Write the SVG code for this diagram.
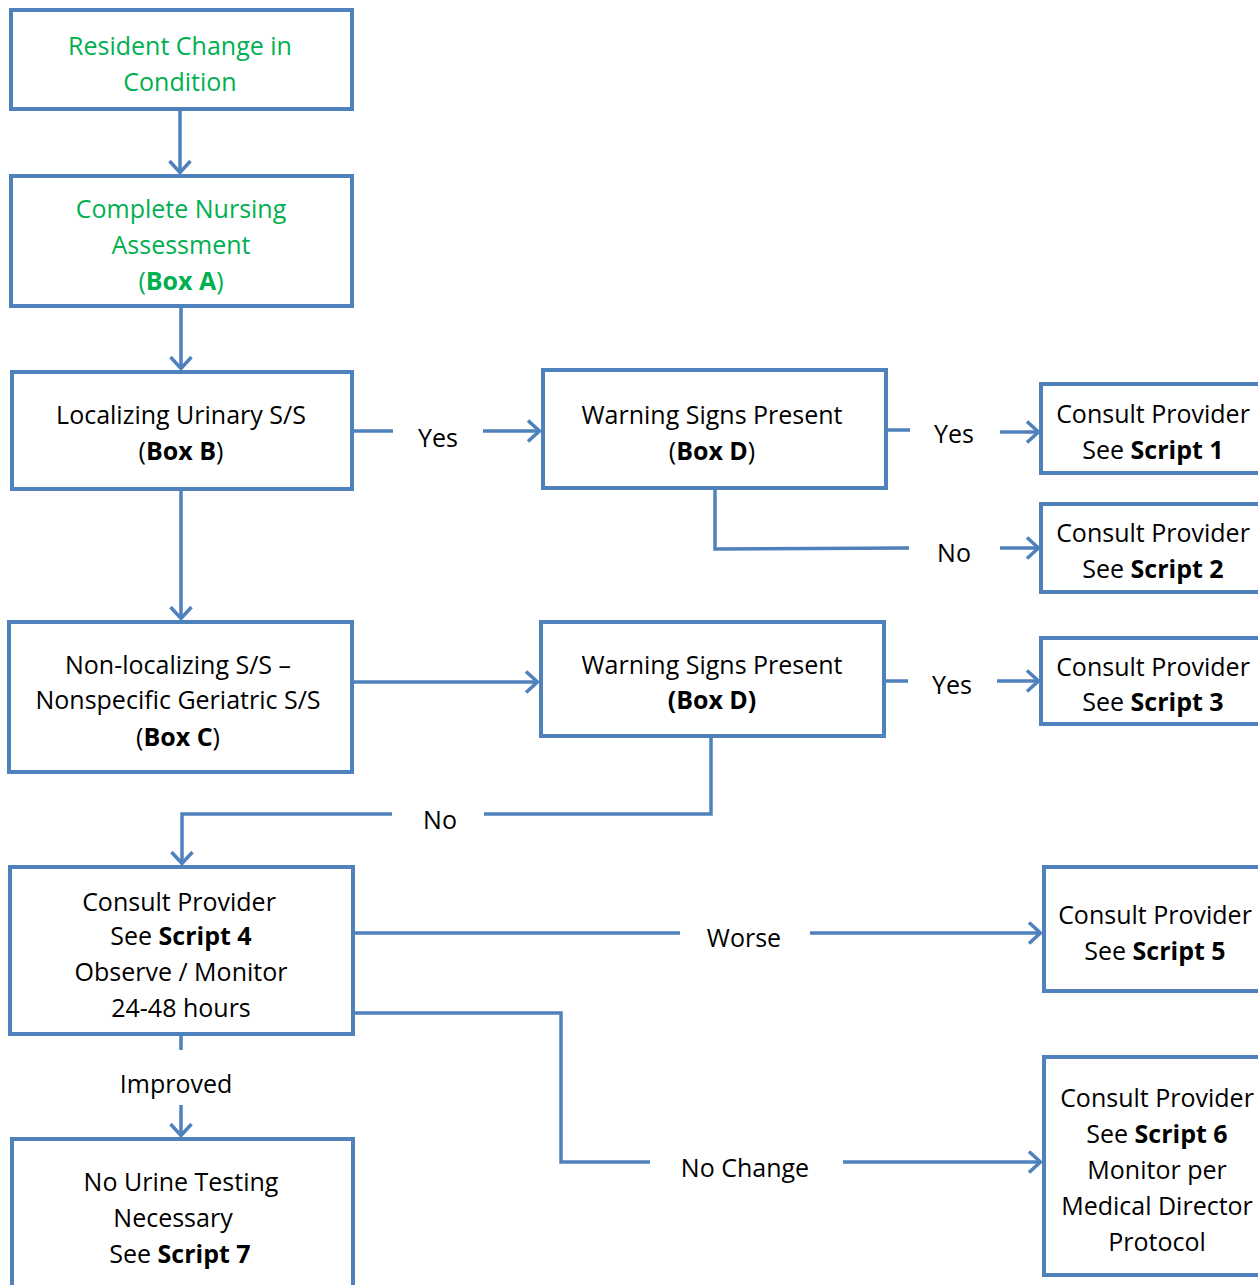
<svg xmlns="http://www.w3.org/2000/svg" width="1258" height="1285" viewBox="0 0 1258 1285">
<style>
.box{fill:#fff;stroke:#4F81BD;stroke-width:4}
.ln{fill:none;stroke:#4F81BD;stroke-width:3.5}
text{font-family:"Open Sans","Noto Sans","DejaVu Sans",sans-serif;font-size:25px;fill:#000;text-anchor:middle}
.g{fill:#00B050}
.b{font-weight:bold}
</style>
<defs>
<marker id="ah" viewBox="0 0 14 24" refX="13" refY="12" markerWidth="14" markerHeight="24" markerUnits="userSpaceOnUse" orient="auto">
<path d="M1,1.5 L12.5,12 L1,22.5" fill="none" stroke="#4F81BD" stroke-width="3.5"/>
</marker>
</defs>
<g id="connectors">
<path class="ln" d="M180,110 V173" marker-end="url(#ah)"/>
<path class="ln" d="M181,307 V369" marker-end="url(#ah)"/>
<path class="ln" d="M181,490 V619" marker-end="url(#ah)"/>
<path class="ln" d="M353,431 H393"/>
<path class="ln" d="M483,431 H540" marker-end="url(#ah)"/>
<path class="ln" d="M886,430 H910"/>
<path class="ln" d="M1000,432 H1039" marker-end="url(#ah)"/>
<path class="ln" d="M715,489 V549 L909,548"/>
<path class="ln" d="M1000,548 H1039" marker-end="url(#ah)"/>
<path class="ln" d="M352,682 H538" marker-end="url(#ah)"/>
<path class="ln" d="M884,681 H908"/>
<path class="ln" d="M997,681 H1039" marker-end="url(#ah)"/>
<path class="ln" d="M711,737 V814 H484"/>
<path class="ln" d="M392,814 H182 V864" marker-end="url(#ah)"/>
<path class="ln" d="M353,933 H680"/>
<path class="ln" d="M810,933 H1041" marker-end="url(#ah)"/>
<path class="ln" d="M353,1013 H561 V1162 H650"/>
<path class="ln" d="M843,1162 H1041" marker-end="url(#ah)"/>
<path class="ln" d="M181,1035 V1050"/>
<path class="ln" d="M181,1105 V1136" marker-end="url(#ah)"/>
<text x="438" y="447">Yes</text>
<text x="954" y="443">Yes</text>
<text x="954" y="562">No</text>
<text x="952" y="694">Yes</text>
<text x="440" y="829">No</text>
<text x="744" y="947">Worse</text>
<text x="745" y="1177">No Change</text>
<text x="176" y="1093">Improved</text>
</g>
<g id="n1">
<rect class="box" x="11" y="10" width="341" height="99"/>
<text class="g" x="180" y="55">Resident Change in</text>
<text class="g" x="180" y="91">Condition</text>
</g>
<g id="n2">
<rect class="box" x="11" y="176" width="341" height="130"/>
<text class="g" x="181" y="218">Complete Nursing</text>
<text class="g" x="181" y="254">Assessment</text>
<text class="g" x="181" y="290">(<tspan class="b">Box A</tspan>)</text>
</g>
<g id="nB">
<rect class="box" x="12" y="372" width="340" height="117"/>
<text x="181" y="424">Localizing Urinary S/S</text>
<text x="181" y="460">(<tspan class="b">Box B</tspan>)</text>
</g>
<g id="nD1">
<rect class="box" x="543" y="370" width="343" height="118"/>
<text x="712" y="424">Warning Signs Present</text>
<text x="712" y="460">(<tspan class="b">Box D</tspan>)</text>
</g>
<g id="nS1">
<rect class="box" x="1041" y="384" width="240" height="89"/>
<text x="1153" y="423">Consult Provider</text>
<text x="1153" y="459">See <tspan class="b">Script 1</tspan></text>
</g>
<g id="nS2">
<rect class="box" x="1041" y="504" width="240" height="88"/>
<text x="1153" y="542">Consult Provider</text>
<text x="1153" y="578">See <tspan class="b">Script 2</tspan></text>
</g>
<g id="nC">
<rect class="box" x="9" y="622" width="343" height="150"/>
<text x="178" y="674">Non-localizing S/S –</text>
<text x="178" y="709">Nonspecific Geriatric S/S</text>
<text x="178" y="746">(<tspan class="b">Box C</tspan>)</text>
</g>
<g id="nD2">
<rect class="box" x="541" y="622" width="343" height="114"/>
<text x="712" y="674">Warning Signs Present</text>
<text x="712" y="709" class="b">(Box D)</text>
</g>
<g id="nS3">
<rect class="box" x="1041" y="638" width="240" height="86"/>
<text x="1153" y="676">Consult Provider</text>
<text x="1153" y="711">See <tspan class="b">Script 3</tspan></text>
</g>
<g id="nS4">
<rect class="box" x="10" y="867" width="343" height="167"/>
<text x="179" y="911">Consult Provider</text>
<text x="181" y="945">See <tspan class="b">Script 4</tspan></text>
<text x="181" y="981">Observe / Monitor</text>
<text x="181" y="1017">24-48 hours</text>
</g>
<g id="nS5">
<rect class="box" x="1044" y="867" width="240" height="124"/>
<text x="1155" y="924">Consult Provider</text>
<text x="1155" y="960">See <tspan class="b">Script 5</tspan></text>
</g>
<g id="nS6">
<rect class="box" x="1044" y="1057" width="240" height="218"/>
<text x="1157" y="1107">Consult Provider</text>
<text x="1157" y="1143">See <tspan class="b">Script 6</tspan></text>
<text x="1157" y="1179">Monitor per</text>
<text x="1157" y="1215">Medical Director</text>
<text x="1157" y="1251">Protocol</text>
</g>
<g id="nS7">
<rect class="box" x="12" y="1139" width="341" height="170"/>
<text x="181" y="1191">No Urine Testing</text>
<text x="173" y="1227">Necessary</text>
<text x="180" y="1263">See <tspan class="b">Script 7</tspan></text>
</g>
</svg>
